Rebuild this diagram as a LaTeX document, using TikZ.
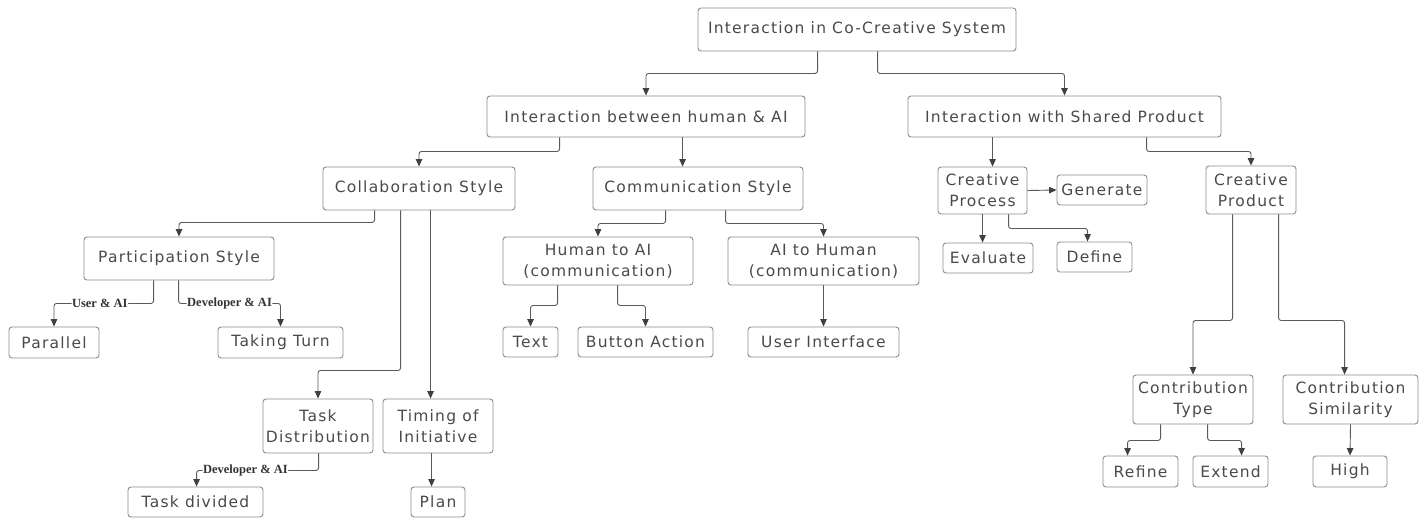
\documentclass[tikz,border=0pt]{standalone}
\usepackage{fontspec}
\usetikzlibrary{arrows.meta}
\newfontfamily\boxfont{DejaVu Sans}[LetterSpace=8]
\newfontfamily\lblfont{Liberation Serif}
\definecolor{txt}{HTML}{4A4A4A}
\definecolor{bord}{HTML}{8C8C8C}
\definecolor{lin}{HTML}{5A5A5A}
\definecolor{tip}{HTML}{3C4048}
\tikzset{
  box/.style={draw=bord, line width=0.9pt, rounded corners=3pt, inner sep=0pt, align=center,
    text=txt, font=\boxfont\fontsize{15.5}{21}\selectfont},
  conn/.style={draw=lin, line width=0.9pt, rounded corners=2.5pt,
    -{Triangle[width=6.5pt,length=7.5pt,fill=tip,color=tip]}},
  lbl/.style={fill=white, inner sep=0.5pt, text=black!80,
    font=\lblfont\bfseries\fontsize{12.5}{13}\selectfont}
}
\newcommand\bx[6]{\node[box,minimum width={(#4-#2)*1pt},minimum height={(#5-#3)*1pt}] (#1) at ({(#2+#4)/2},{(#3+#5)/2}) {#6};}
\begin{document}
\begin{tikzpicture}[x=1pt,y=-1pt]
\useasboundingbox[fill=white] (0,0) rectangle (1426,519);
% boxes
\bx{root}{698}{8}{1016}{51}{Interaction in Co-Creative System}
\bx{hai}{487}{96}{805}{137}{Interaction between human \& AI}
\bx{shp}{908}{96}{1221}{137}{Interaction with Shared Product}
\bx{collab}{323}{167}{515}{210}{Collaboration Style}
\bx{comm}{593}{167}{803}{210}{Communication Style}
\bx{part}{84}{237}{274}{280}{Participation Style}
\bx{parallel}{9}{327}{99}{358}{Parallel}
\bx{taking}{218}{327}{343}{358}{Taking Turn}
\bx{h2ai}{503}{237}{693}{285}{Human to AI\\(communication)}
\bx{ai2h}{728}{237}{919}{285}{AI to Human\\(communication)}
\bx{text}{503}{327}{558}{357}{Text}
\bx{button}{578}{327}{713}{357}{Button Action}
\bx{ui}{748}{327}{899}{357}{User Interface}
\bx{cproc}{938}{167}{1027}{214}{Creative\\Process}
\bx{generate}{1057}{175}{1147}{205}{Generate}
\bx{evaluate}{943}{243}{1033}{273}{Evaluate}
\bx{define}{1057}{242}{1132}{272}{Define}
\bx{cprod}{1206}{166}{1296}{214}{Creative\\Product}
\bx{ctype}{1133}{375}{1253}{424}{Contribution\\Type}
\bx{csim}{1283}{375}{1418}{424}{Contribution\\Similarity}
\bx{refine}{1103}{456}{1178}{487}{Refine}
\bx{extend}{1193}{456}{1268}{487}{Extend}
\bx{high}{1313}{456}{1387}{487}{High}
\bx{taskd}{263}{399}{373}{453}{Task\\Distribution}
\bx{timing}{383}{399}{493}{453}{Timing of\\Initiative}
\bx{taskdiv}{128}{487}{263}{517}{Task divided}
\bx{plan}{411}{487}{465}{517}{Plan}
% helper coordinates for straight connectors
\coordinate (s4) at ([xshift=196pt]hai.south west);
\coordinate (s7) at ([xshift=108pt]collab.south west);
\coordinate (s15) at ([xshift=85pt]shp.south west);
\coordinate (s18) at ([xshift=45pt]cproc.south west);
\coordinate (s26) at ([xshift=49pt]timing.south west);
% connectors
\draw[conn] ([xshift=120pt]root.south west) -- ++(0,22) -| (hai.north);
\draw[conn] ([xshift=180pt]root.south west) -- ++(0,22) -| (shp.north);
\draw[conn] ([xshift=73pt]hai.south west) -- ++(0,14) -| (collab.north);
\draw[conn] (s4) -- (s4 |- comm.north);
\draw[conn] ([xshift=52pt]collab.south west) -- ++(0,12) -| (part.north);
\draw[conn] ([xshift=78pt]collab.south west) -- ++(0,160) -| (taskd.north);
\draw[conn] (s7) -- (s7 |- timing.north);
\draw[conn] ([xshift=70pt]part.south west) -- ++(0,23) -| node[lbl,pos=0.27]{User \& AI} (parallel.north);
\draw[conn] ([xshift=95pt]part.south west) -- ++(0,23) -| node[lbl,pos=0.25]{Developer \& AI} (taking.north);
\draw[conn] ([xshift=73pt]comm.south west) -- ++(0,13) -| (h2ai.north);
\draw[conn] ([xshift=133pt]comm.south west) -- ++(0,13) -| (ai2h.north);
\draw[conn] ([xshift=55pt]h2ai.south west) -- ++(0,20) -| (text.north);
\draw[conn] ([xshift=115pt]h2ai.south west) -- ++(0,20) -| (button.north);
\draw[conn] (ai2h.south) -- (ui.north);
\draw[conn] (s15) -- (s15 |- cproc.north);
\draw[conn] ([xshift=239pt]shp.south west) -- ++(0,14) -| (cprod.north);
\draw[conn] (cproc.east) -- (generate.west);
\draw[conn] (s18) -- (s18 |- evaluate.north);
\draw[conn] ([xshift=71pt]cproc.south west) -- ++(0,14) -| ([xshift=31pt]define.north west);
\draw[conn] ([xshift=27pt]cprod.south west) -- ++(0,106) -| (ctype.north);
\draw[conn] ([xshift=73pt]cprod.south west) -- ++(0,106) -| ([xshift=62pt]csim.north west);
\draw[conn] ([xshift=28pt]ctype.south west) -- ++(0,16) -| ([xshift=25pt]refine.north west);
\draw[conn] ([xshift=75pt]ctype.south west) -- ++(0,16) -| ([xshift=49pt]extend.north west);
\draw[conn] (csim.south) -- (high.north);
\draw[conn] ([xshift=56pt]taskd.south west) -- ++(0,17) -| node[lbl,pos=0.3]{Developer \& AI} ([xshift=69pt]taskdiv.north west);
\draw[conn] (s26) -- (s26 |- plan.north);
\end{tikzpicture}
\end{document}
